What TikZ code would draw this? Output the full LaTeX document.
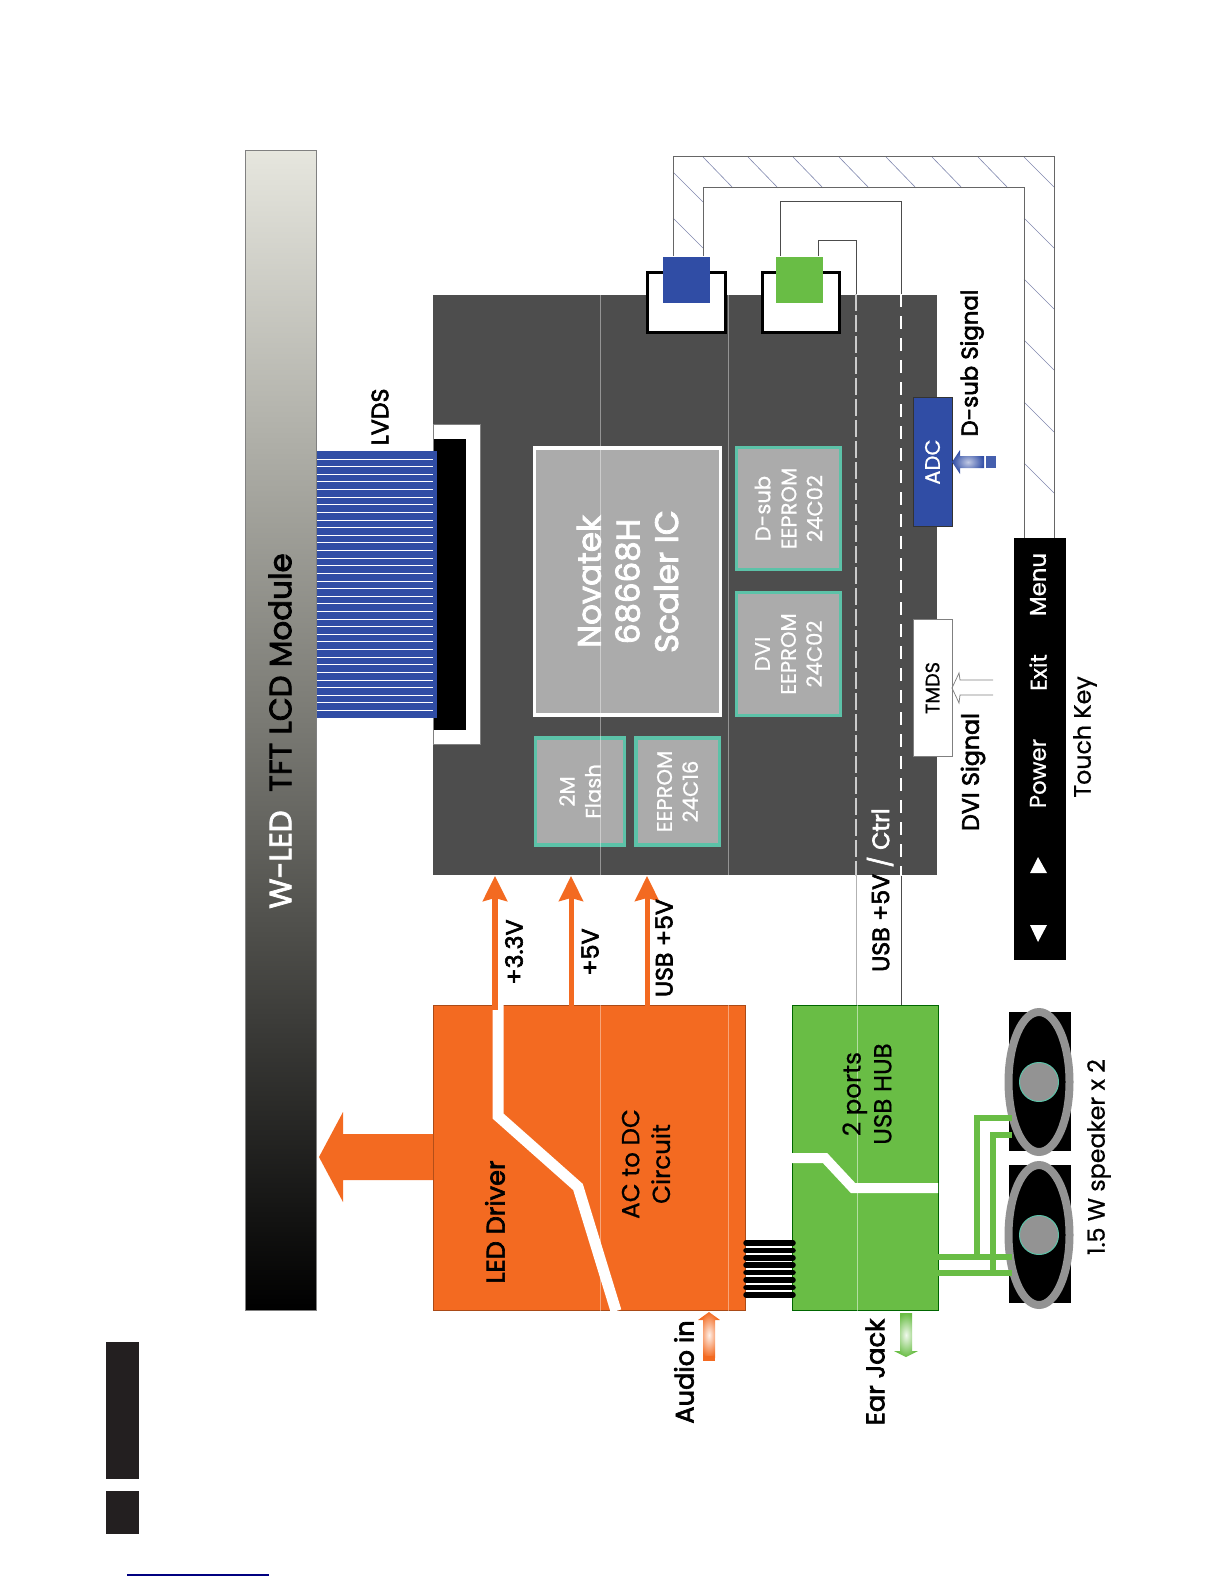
\documentclass[tikz,border=0pt]{standalone}
\usepackage{fontspec}
\setmainfont{Poppins}[FakeBold=0.7]
\newfontfamily\semib{Poppins}[FakeBold=2.6]
\usepackage{xcolor}
\usetikzlibrary{arrows.meta,positioning,shapes.geometric}
\definecolor{boardGrey}{HTML}{4D4D4D}
\definecolor{chipGrey}{HTML}{ABABAB}
\definecolor{chipTeal}{HTML}{5CC2A8}
\definecolor{psuOrange}{HTML}{F36A21}
\definecolor{hubGreen}{HTML}{69BD45}
\definecolor{cableBlue}{HTML}{304DA5}
\definecolor{hatchBlue}{HTML}{8088AE}
\definecolor{barTop}{HTML}{E6E6DE}
\definecolor{barMid}{HTML}{787872}
\definecolor{tabBlack}{HTML}{231F20}
\newcommand{\fsize}[2]{\fontsize{#1}{#2}\selectfont}
\begin{document}
\begin{tikzpicture}[x=0.02cm,y=-0.02cm,
  lbl/.style={rotate=90,align=center,inner sep=0pt,text=black,font=\fsize{13.5}{16}},
  lblb/.style={lbl,font=\fsize{13.5}{16}\semib},
  chip/.style={rotate=90,align=center,inner sep=0pt,draw=chipTeal,fill=chipGrey,line width=0.07cm,text=white,font=\fsize{12}{14.8}},
  sock/.style={draw=black,fill=white,line width=0.06cm,inner sep=0pt},
  keytxt/.style={lbl,text=white,font=\fsize{13}{16}},
  pwr/.style={psuOrange,line width=0.13cm,-{Stealth[length=0.5cm,width=0.48cm,inset=0.06cm]}},
  wire/.style={line width=0.02cm},
  spk/.style={hubGreen,line width=0.11cm},
  cone/.style={ellipse,draw=gray!85,fill=black,line width=0.16cm,inner sep=0pt,minimum width=1.22cm,minimum height=2.8cm}]
\useasboundingbox (0,0) rectangle (1224,1584);
% --- panel ---
\node[draw=gray,line width=0.02cm,top color=barTop,bottom color=black,middle color=barMid,minimum width=1.44cm,minimum height=23.22cm,inner sep=0pt] (lcd) at (281,730.5) {};
\node[lbl,font=\fsize{17.6}{20}\semib] (lcdtxt) at (280,731) {\textcolor{white}{W-LED}\hspace{0.6em}TFT LCD Module};
% --- boards ---
\node[fill=boardGrey,minimum width=10.08cm,minimum height=11.62cm,inner sep=0pt] (board) at (685,585) {};
\node[draw=psuOrange!70!black,line width=0.02cm,fill=psuOrange,minimum width=6.26cm,minimum height=6.12cm,inner sep=0pt] (psu) at (589.5,1158) {};
\node[draw=green!40!black,line width=0.02cm,fill=hubGreen,minimum width=2.92cm,minimum height=6.12cm,inner sep=0pt] (hub) at (865,1158) {};
\fill[psuOrange] (433,1134) -- (343,1134) -- (343,1112) -- (319,1157) -- (343,1202) -- (343,1180) -- (433,1180) -- cycle;
\draw[white,line width=0.22cm] (498,1005) -- (498,1116) -- (578,1187) -- (616,1311);
\draw[white,line width=0.2cm] (792,1158) -- (825,1158) -- (853,1188) -- (938,1188);
% --- lvds ---
\node[draw=gray,line width=0.02cm,fill=white,minimum width=0.94cm,minimum height=6.42cm,inner sep=0pt] (lvdsframe) at (457,584.5) {};
\node[fill=black,minimum width=0.64cm,minimum height=5.82cm,inner sep=0pt] (lvdsconn) at (449.5,584.5) {};
\node[fill=cableBlue,minimum width=2.4cm,minimum height=5.34cm,inner sep=0pt] (lvds) at (377,584.5) {};
\foreach \i in {0,...,33}
  \draw[white,line width=0.016cm] (317,459+\i*7.62) -- (433,459+\i*7.62);
% --- chips ---
\node[chip,draw=white,minimum width=5.35cm,minimum height=3.72cm,font=\fsize{18.5}{22}\semib] (scaler) at (627.5,581.5) {Novatek\\68668H\\Scaler IC};
\node[chip,minimum width=2.15cm,minimum height=1.78cm] (flash) at (580,791.5) {2M\\Flash};
\node[chip,minimum width=2.15cm,minimum height=1.67cm] (eep) at (677.5,791.5) {EEPROM\\24C16};
\node[chip,minimum width=2.44cm,minimum height=2.08cm] (dsubeep) at (788.5,508.5) {D-sub\\EEPROM\\24C02};
\node[chip,minimum width=2.46cm,minimum height=2.08cm] (dvieep) at (788.5,654) {DVI\\EEPROM\\24C02};
% --- faint seams ---
\draw[white,opacity=0.4,wire] (600,294) -- (600,875);
\draw[white,opacity=0.4,wire] (728,294) -- (728,875);
\draw[white,opacity=0.4,wire] (600,1005) -- (600,1311);
\draw[white,opacity=0.4,wire] (728,1005) -- (728,1311);
\draw[white,opacity=0.5,wire] (857,1005) -- (857,1311);
% --- sockets ---
\node[sock,minimum width=1.56cm,minimum height=1.22cm] (sockb) at (686,302.5) {};
\node[sock,minimum width=1.54cm,minimum height=1.22cm] (sockg) at (800.5,302.5) {};
\node[fill=cableBlue,minimum width=0.94cm,minimum height=0.94cm,inner sep=0pt] (plugb) at (686.5,280) {};
\node[fill=hubGreen,minimum width=0.94cm,minimum height=0.94cm,inner sep=0pt] (plugg) at (799.5,280) {};
% --- touch key ---
\node[fill=black,minimum width=1.04cm,minimum height=8.44cm,inner sep=0pt] (touch) at (1040,749) {};
\node[keytxt] (menu) at (1038,584.5) {Menu};
\node[keytxt] (exit) at (1038,672.5) {Exit};
\node[keytxt] (power) at (1038,773.5) {Power};
\fill[white] (1038,857) -- (1047,873) -- (1030,873) -- cycle;
\fill[white] (1038,942) -- (1047,925) -- (1030,925) -- cycle;
% --- cables ---
\foreach \x/\ya/\yb in {703/157/188,748/157/188,793/157/188,839/157/188,886/157/188,932/157/188,978/157/188}
  \draw[hatchBlue,line width=0.012cm] (\x,\ya) -- (\x+30,\yb);
\foreach \ya in {172,218}
  \draw[hatchBlue,line width=0.012cm] (673,\ya) -- (703,\ya+30);
\foreach \ya in {157,218,279,340,402,463}
  \draw[hatchBlue,line width=0.012cm] (1024,\ya) -- (1054,\ya+30);
\draw[black!60,wire] (673,0 |- plugb.north) |- (1054,157) -- (1054,0 |- touch.north);
\draw[black!60,wire] (703,0 |- plugb.north) |- (1024,188) -- (1024,0 |- touch.north);
\draw[black!70,wire] (780,0 |- plugg.north) |- (901,202) -- (901,0 |- board.north);
\draw[black!70,wire] (818,0 |- plugg.north) |- (856,241) -- (856,0 |- board.north);
\draw[white,line width=0.04cm,dash pattern=on 0.26cm off 0.18cm] (901,0 |- board.north) -- (901,0 |- board.south);
\draw[gray!40,line width=0.04cm,dash pattern=on 0.34cm off 0.08cm] (856,0 |- board.north) -- (856,0 |- board.south);
\draw[black!70,wire] (901,0 |- board.south) -- (901,0 |- hub.north);
\draw[gray!60,wire] (856,0 |- board.south) -- (856,0 |- hub.north);
% --- inputs ---
\node[chip,draw=black!80,line width=0.02cm,fill=cableBlue,minimum width=2.6cm,minimum height=0.78cm,font=\fsize{12}{14}] (adc) at (932.5,462) {ADC};
\node[chip,draw=gray,line width=0.02cm,fill=white,text=black,minimum width=2.76cm,minimum height=0.78cm,font=\fsize{11}{14}] (tmds) at (932.5,688) {TMDS};
\shade[inner color=cableBlue!30,outer color=cableBlue] (952,462) -- (960,450) -- (960,456) -- (984,456) -- (984,468) -- (960,468) -- (960,474) -- cycle;
\fill[cableBlue!90] (986,456) rectangle (996,468);
\draw[gray,line width=0.015cm] (993,680) -- (960,680) -- (959,673) -- (952,688) -- (959,703) -- (960,695) -- (993,695);
% --- power rails ---
\coordinate (r33a) at (495,1010); \coordinate (r33b) at (495,876);
\coordinate (r5a) at (571,1006); \coordinate (r5b) at (571,876);
\coordinate (rua) at (647,1006); \coordinate (rub) at (647,876);
\draw[pwr] (r33a) -- (r33b);
\draw[pwr,line width=0.1cm] (r5a) -- (r5b);
\draw[pwr,line width=0.1cm] (rua) -- (rub);
% --- audio ---
\foreach \i in {0,...,7}
  \draw[black,line width=0.11cm,line cap=round] (746,1243+\i*7.4) -- (793,1243+\i*7.4);
\shade[inner color=white!90!psuOrange,outer color=psuOrange] (709,1312) -- (720,1320) -- (715,1320) -- (715,1358) -- (703,1358) -- (703,1320) -- (698,1320) -- cycle;
\fill[psuOrange] (703,1356) rectangle (715,1361);
\shade[inner color=white!90!hubGreen,outer color=hubGreen] (900,1313) -- (912,1313) -- (912,1351) -- (918,1351) -- (906,1357) -- (894,1351) -- (900,1351) -- cycle;
\node[fill=black,minimum width=1.24cm,minimum height=2.78cm,inner sep=0pt] (spkboxa) at (1040,1081.5) {};
\node[fill=black,minimum width=1.24cm,minimum height=2.76cm,inner sep=0pt] (spkboxb) at (1040,1234) {};
\node[cone] (conea) at (1039,1082) {};
\node[cone] (coneb) at (1039,1235) {};
\node[circle,draw=chipTeal,fill=gray!85,line width=0.02cm,minimum size=0.78cm,inner sep=0pt] (capa) at (conea) {};
\node[circle,draw=chipTeal,fill=gray!85,line width=0.02cm,minimum size=0.78cm,inner sep=0pt] (capb) at (coneb) {};
\draw[spk] (938,1257) -- (1012,1257);
\draw[spk] (938,1273) -- (1012,1273);
\draw[spk] (977,1257) |- (1012,1118);
\draw[spk] (993,1273) |- (1012,1135);
% --- labels ---
\node[lblb] (lvdstxt) at (380,417) {LVDS};
\node[lblb] (v33) at (514,952) {+3.3V};
\node[lblb] (v5) at (590,952) {+5V};
\node[lblb] (vusb) at (664,948) {USB +5V};
\node[lblb] (usbctrl) at (880,890) {USB +5V \textcolor{white}{/ Ctrl}};
\node[lblb] (dvisig) at (973,772) {DVI Signal};
\node[lblb,font=\fsize{13}{16}\semib] (dsubsig) at (972,363) {D-sub Signal};
\node[lbl] (touchtxt) at (1085,737) {Touch Key};
\node[lblb,font=\fsize{14.6}{18}\semib] (ledtxt) at (495,1222) {LED Driver};
\node[lbl,font=\fsize{14}{17.5}] (actxt) at (646,1164) {AC to DC\\Circuit};
\node[lbl,font=\fsize{14}{17.5}] (hubtxt) at (867,1094) {2 ports\\USB HUB};
\node[lbl] (spktxt) at (1099,1157) {1.5 W speaker x 2};
\node[lblb,font=\fsize{14.6}{18}\semib] (audiotxt) at (684,1372) {Audio in};
\node[lblb,font=\fsize{14.6}{18}\semib] (eartxt) at (875,1372) {Ear Jack};
% --- corner ---
\fill[tabBlack] (106,1342) rectangle (139,1479);
\fill[tabBlack] (106,1491) rectangle (139,1534);
\draw[blue!50!black,line width=0.03cm] (127,1575) -- (269,1575);
\end{tikzpicture}
\end{document}
